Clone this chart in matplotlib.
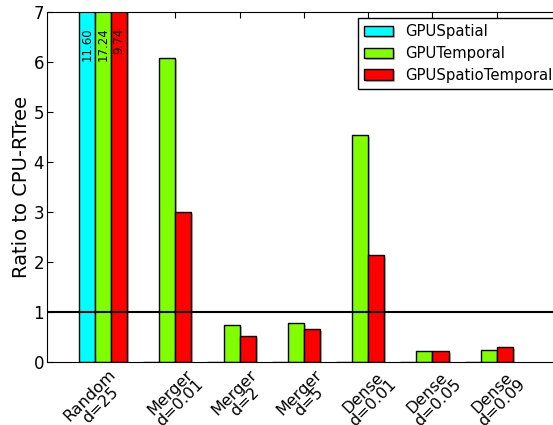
import numpy as np
import matplotlib
matplotlib.use("Agg")
import matplotlib.pyplot as plt
import matplotlib.patheffects as pe

categories = ["Random\nd=25", "Merger\nd=0.01", "Merger\nd=2", "Merger\nd=5",
              "Dense\nd=0.01", "Dense\nd=0.05", "Dense\nd=0.09"]
gpu_spatial = [11.60, 0, 0, 0, 0, 0, 0]
gpu_temporal = [17.24, 6.08, 0.74, 0.77, 4.53, 0.22, 0.23]
gpu_spatiotemporal = [9.74, 3.00, 0.51, 0.66, 2.13, 0.22, 0.29]

ind = np.arange(1, len(categories) + 1)
width = 0.25
ymax = 7

fig = plt.figure(figsize=(5.53, 4.25), dpi=100)
ax = fig.add_axes([46.7/553, 63.3/425, 514.4/553, 350/425])

shadow = [pe.SimplePatchShadow(offset=(1.5, -1.5), shadow_rgbFace="0.5", alpha=0.5), pe.Normal()]
series = [(gpu_spatial, "#00FFFF", "GPUSpatial", -2),
          (gpu_temporal, "#7FFF00", "GPUTemporal", -1),
          (gpu_spatiotemporal, "#FF0000", "GPUSpatioTemporal", 0)]
for vals, col, name, off in series:
    bars = ax.bar(ind + off*width, vals, width, align="edge", color=col,
                  edgecolor="black", linewidth=1, label=name)
    for b in bars:
        b.set_path_effects(shadow)
    # values that run off the top get written inside the bar
    for b, v in zip(bars, vals):
        if v > ymax:
            ax.text(b.get_x() + b.get_width()/2, 6.68, "%.2f" % v, rotation=90,
                    ha="center", va="top", fontsize=8.5)

ax.axhline(1, color="black", linewidth=1.5)

# the first group has three bars, so its label sits under the middle one
ticks = ind.astype(float)
ticks[0] -= width
ax.set_xlim(0, 8)
ax.set_ylim(0, ymax)
ax.set_xticks(ticks)
ax.set_xticklabels(categories, rotation=45, ha="center", fontsize=11.5, linespacing=0.95)
ax.set_yticks(range(0, 8))
ax.tick_params(axis="y", labelsize=12, pad=2)
ax.tick_params(direction="in", top=True, right=True, length=4)
ax.set_ylabel("Ratio to CPU-RTree", fontsize=14, labelpad=2)

ax.legend(loc="upper left", bbox_to_anchor=(357.7/553, 1 - 18.3/425),
          bbox_transform=fig.transFigure, borderaxespad=0, fontsize=10.7,
          labelspacing=0.45, fancybox=False, edgecolor="black", framealpha=1)

fig.savefig("out.png", dpi=100)
